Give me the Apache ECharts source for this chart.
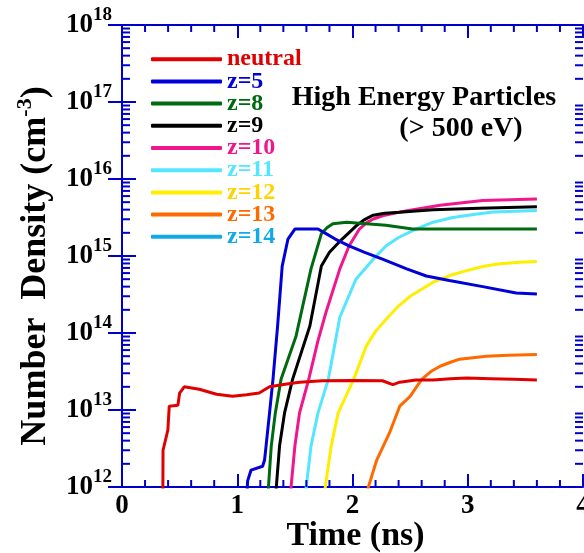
<!DOCTYPE html>
<html>
<head>
<meta charset="utf-8">
<script src="https://cdn.jsdelivr.net/npm/echarts@6/dist/echarts.min.js"></script>
<style>
html,body{margin:0;padding:0;background:#fff;}
#chart{width:584px;height:553px;}
</style>
</head>
<body>
<div id="chart"></div>
<script>
// ---- Data (time in ns, number density in cm^-3) ----
const seriesNames = ['neutral', 'z=5', 'z=8', 'z=9', 'z=10', 'z=11', 'z=12', 'z=13', 'z=14'];

const tNeutral = [0.354, 0.356, 0.398, 0.41, 0.485, 0.50, 0.54, 0.67, 0.82, 0.96, 1.08, 1.19, 1.28, 1.40, 1.54, 1.74, 2.00, 2.26, 2.35, 2.41, 2.55, 2.70, 2.85, 2.99, 3.20, 3.40, 3.60];
const nNeutral = [5e11, 3.0e12, 5.5e12, 1.12e13, 1.15e13, 1.66e13, 2.0e13, 1.86e13, 1.6e13, 1.51e13, 1.58e13, 1.66e13, 2.0e13, 2.15e13, 2.3e13, 2.4e13, 2.42e13, 2.4e13, 2.14e13, 2.3e13, 2.45e13, 2.45e13, 2.55e13, 2.6e13, 2.55e13, 2.5e13, 2.45e13];

const tZ5 = [1.078, 1.09, 1.12, 1.22, 1.237, 1.25, 1.28, 1.31, 1.35, 1.39, 1.44, 1.50, 1.70, 1.77, 1.85, 1.97, 2.10, 2.26, 2.47, 2.64, 2.84, 3.13, 3.42, 3.60];
const nZ5 = [5e11, 1.2e12, 1.66e12, 1.86e12, 2.24e12, 3.4e12, 9.1e12, 2.5e13, 1.23e14, 7.4e14, 1.66e15, 2.24e15, 2.24e15, 1.95e15, 1.66e15, 1.35e15, 1.12e15, 9.1e14, 6.8e14, 5.5e14, 4.8e14, 4.0e14, 3.3e14, 3.2e14];

const tZ8 = [1.257, 1.295, 1.33, 1.38, 1.51, 1.64, 1.73, 1.78, 1.83, 1.95, 2.29, 2.52, 3.60];
const nZ8 = [5e11, 3.4e12, 9.1e12, 2.5e13, 9.1e13, 6.8e14, 1.95e15, 2.34e15, 2.63e15, 2.75e15, 2.5e15, 2.24e15, 2.24e15];

const tZ9 = [1.323, 1.367, 1.41, 1.48, 1.63, 1.73, 1.80, 1.91, 2.03, 2.10, 2.18, 2.28, 2.41, 2.55, 2.70, 3.10, 3.60];
const nZ9 = [5e11, 3.4e12, 9.1e12, 2.5e13, 1.23e14, 7.4e14, 1.12e15, 1.66e15, 2.45e15, 2.95e15, 3.39e15, 3.59e15, 3.7e15, 3.85e15, 4.0e15, 4.17e15, 4.37e15];

const tZ10 = [1.448, 1.50, 1.54, 1.62, 1.70, 1.77, 1.89, 1.97, 2.06, 2.12, 2.18, 2.28, 2.41, 2.76, 3.13, 3.60];
const nZ10 = [5e11, 3.4e12, 9.1e12, 2.5e13, 7.9e13, 1.86e14, 6.8e14, 1.35e15, 2.24e15, 2.69e15, 3.02e15, 3.39e15, 3.72e15, 4.57e15, 5.25e15, 5.5e15];

const tZ11 = [1.575, 1.64, 1.70, 1.79, 1.89, 2.03, 2.18, 2.29, 2.40, 2.55, 2.70, 2.87, 3.05, 3.22, 3.60];
const nZ11 = [5e11, 3.4e12, 9.1e12, 2.5e13, 1.6e14, 5.0e14, 9.1e14, 1.35e15, 1.74e15, 2.24e15, 2.75e15, 3.16e15, 3.47e15, 3.72e15, 3.9e15];

const tZ12 = [1.735, 1.815, 1.875, 2.01, 2.12, 2.20, 2.29, 2.40, 2.50, 2.70, 2.85, 2.99, 3.15, 3.28, 3.45, 3.60];
const nZ12 = [5e11, 3.4e12, 9.1e12, 2.5e13, 6.8e13, 1.05e14, 1.5e14, 2.24e14, 3.0e14, 4.57e14, 5.62e14, 6.46e14, 7.4e14, 7.94e14, 8.3e14, 8.5e14];

const tZ13 = [2.076, 2.21, 2.32, 2.41, 2.50, 2.60, 2.68, 2.76, 2.85, 2.93, 3.16, 3.35, 3.60];
const nZ13 = [5e11, 2.24e12, 5.0e12, 1.12e13, 1.5e13, 2.5e13, 3.16e13, 3.7e13, 4.17e13, 4.57e13, 5.0e13, 5.13e13, 5.25e13];

const tZ14 = [];
const nZ14 = [];

const xTickLabels = ['0', '1', '2', '3', '4'];
const yExponents = [12, 13, 14, 15, 16, 17, 18];

// ---- Styles ----
const lineColors = ['#e00000', '#0000d8', '#006a10', '#000000', '#f0168c', '#55e6ff', '#ffee00', '#ff6a00', '#10aae8'];
const textColors = ['#e00000', '#0000d8', '#006a10', '#000000', '#f0168c', '#55e6ff', '#ffd200', '#ff6a00', '#10aae8'];
const FONT = "'Liberation Serif', 'Times New Roman', Times, serif";
const AXIS = '#0000cc';

const allT = [tNeutral, tZ5, tZ8, tZ9, tZ10, tZ11, tZ12, tZ13, tZ14];
const allN = [nNeutral, nZ5, nZ8, nZ9, nZ10, nZ11, nZ12, nZ13, nZ14];

function pts(t, n) { return t.map((x, i) => [x, Math.log10(n[i])]); }

const Y0 = yExponents[0], Y1 = yExponents[yExponents.length - 1];
const X0 = 0, X1 = xTickLabels.length - 1;

// minor tick positions (log decades 2..9, and every 0.2 ns)
const yMinor = [];
for (let e = Y0; e < Y1; e++) for (let k = 2; k <= 9; k++) yMinor.push(e + Math.log10(k));
const xMinor = [];
for (let i = X0 * 5; i <= X1 * 5; i++) if (i % 5 !== 0) xMinor.push(i / 5);

const series = seriesNames.map((name, i) => ({
  name: name,
  type: 'line',
  data: pts(allT[i], allN[i]),
  showSymbol: false,
  symbol: 'none',
  clip: true,
  lineStyle: { color: lineColors[i], width: 3 },
  itemStyle: { color: lineColors[i] },
  z: 10 - i
}));

// minor ticks drawn through the axes' own coordinate system
series.push({
  type: 'custom',
  name: 'minorTicks',
  silent: true,
  clip: false,
  z: 30,
  data: yMinor.map(v => [X0, v, 0]).concat(xMinor.map(v => [v, Y0, 1])),
  renderItem: function (params, api) {
    const kind = api.value(2);
    const st = { stroke: AXIS, lineWidth: 2 };
    if (kind === 0) {
      const v = api.value(1);
      const a = api.coord([X0, v]);
      const b = api.coord([X1, v]);
      return { type: 'group', children: [
        { type: 'line', shape: { x1: a[0], y1: a[1], x2: a[0] + 8, y2: a[1] }, style: st },
        { type: 'line', shape: { x1: b[0], y1: b[1], x2: b[0] - 8, y2: b[1] }, style: st }
      ] };
    } else {
      const v = api.value(0);
      const a = api.coord([v, Y0]);
      const b = api.coord([v, Y1]);
      return { type: 'group', children: [
        { type: 'line', shape: { x1: a[0], y1: a[1], x2: a[0], y2: a[1] - 7 }, style: st },
        { type: 'line', shape: { x1: b[0], y1: b[1], x2: b[0], y2: b[1] + 7 }, style: st }
      ] };
    }
  }
});

function yAxisBase(pos) {
  return {
    type: 'value', position: pos, min: Y0, max: Y1, interval: 1,
    axisLine: { show: true, lineStyle: { color: AXIS, width: 2 } },
    axisTick: { show: true, inside: true, length: 14, lineStyle: { color: AXIS, width: 2 } },
    axisLabel: { show: false },
    splitLine: { show: false }
  };
}

const yMain = yAxisBase('left');
yMain.axisLabel = {
  show: true, margin: 10,
  formatter: v => '{b|10}{s|' + Math.round(v) + '}',
  rich: {
    b: { fontSize: 27, fontWeight: 'bold', fontFamily: FONT, color: '#000' },
    s: { fontSize: 19, fontWeight: 'bold', fontFamily: FONT, color: '#000', padding: [0, 0, 20, 0] }
  }
};
yMain.name = 'Number  Density (cm{s|-3})';
yMain.nameLocation = 'middle';
yMain.nameRotate = 90;
yMain.nameGap = 64;
yMain.nameTextStyle = {
  fontSize: 36, fontWeight: 'bold', fontFamily: FONT, color: '#000', padding: [0, 20, 0, 0],
  rich: { s: { fontSize: 22, fontWeight: 'bold', fontFamily: FONT, color: '#000', padding: [0, 0, 22, 0] } }
};

function xAxisBase(pos, labels) {
  return {
    type: 'value', position: pos, min: X0, max: X1, interval: 1,
    axisLine: { show: true, lineStyle: { color: AXIS, width: 2 } },
    axisTick: { show: true, inside: true, length: 13, lineStyle: { color: AXIS, width: 2 } },
    axisLabel: labels
      ? { show: true, margin: 6, fontSize: 27, fontWeight: 'bold', fontFamily: FONT, color: '#000',
          formatter: v => xTickLabels[Math.round(v)] }
      : { show: false },
    splitLine: { show: false }
  };
}
const xMain = xAxisBase('bottom', true);
xMain.name = 'Time (ns)';
xMain.nameLocation = 'middle';
xMain.nameGap = 32;
xMain.nameMoveOverlap = false;
xMain.nameTextStyle = { fontSize: 34, fontWeight: 'bold', fontFamily: FONT, color: '#000', padding: [0, 0, 0, 6] };

const chart = echarts.init(document.getElementById('chart'), null, { renderer: 'canvas' });
chart.setOption({
  animation: false,
  backgroundColor: '#fff',
  grid: { left: 122, right: 1, top: 25, bottom: 66, containLabel: false, outerBoundsMode: 'none' },
  xAxis: [xMain, xAxisBase('top', false)],
  yAxis: [yMain, yAxisBase('right')],
  legend: {
    orient: 'vertical', left: 151, top: 47.2, padding: 0,
    itemWidth: 71, itemHeight: 4, itemGap: -1.8, icon: 'roundRect',
    selectedMode: false,
    textStyle: { fontSize: 24, fontWeight: 'bold', fontFamily: FONT, lineHeight: 14.2, padding: [8, 0, 0, 0] },
    data: seriesNames.map((n, i) => ({ name: n, textStyle: { color: textColors[i] } }))
  },
  graphic: [
    { type: 'text', x: 424, y: 98, style: { text: 'High Energy Particles', align: 'center', verticalAlign: 'middle',
      fontSize: 28, fontWeight: 'bold', fontFamily: FONT, fill: '#000' } },
    { type: 'text', x: 461, y: 129, style: { text: '(> 500 eV)', align: 'center', verticalAlign: 'middle',
      fontSize: 28, fontWeight: 'bold', fontFamily: FONT, fill: '#000' } }
  ],
  series: series
});
</script>
</body>
</html>
